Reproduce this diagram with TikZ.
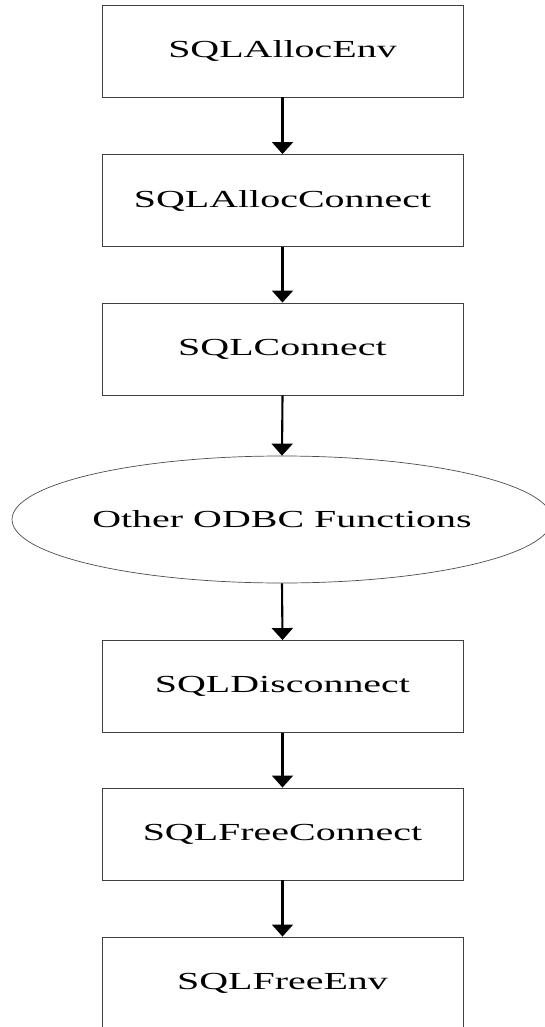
\documentclass[tikz,border=0pt]{standalone}
\usepackage{fontspec}
\setmainfont{Liberation Serif}
\usetikzlibrary{shapes.geometric,arrows.meta}
\begin{document}
\begin{tikzpicture}[x=1pt,y=1pt,
  lbl/.style={font=\fontsize{24.5}{26}\selectfont},
  callbox/.style={lbl,draw=black!75,line width=0.9pt,minimum width=361pt,minimum height=92pt,inner sep=0pt},
  otherbox/.style={lbl,ellipse,draw=black!70,line width=0.7pt,minimum width=540pt,minimum height=127pt,inner sep=0pt},
  flow/.style={line width=2.1pt,-{Triangle[length=12pt,width=21pt]}}]
\useasboundingbox (0,0) rectangle (545,-1027);
\newcommand{\wide}[1]{\scalebox{1.63}[1]{#1}}
\node[callbox] (env)   at (282.5,-51)    {\wide{SQLAllocEnv}};
\node[callbox] (conn)  at (282.5,-200.5) {\wide{SQLAllocConnect}};
\node[callbox] (sqlc)  at (282.5,-349)   {\wide{SQLConnect}};
\node[otherbox] (odbc) at (282,-519.5)   {\wide{Other ODBC Functions}};
\node[callbox] (disc)  at (282.5,-686.5) {\wide{SQLDisconnect}};
\node[callbox] (fconn) at (282.5,-834)   {\wide{SQLFreeConnect}};
\node[callbox] (fenv)  at (282.5,-983)   {\wide{SQLFreeEnv}};
\draw[flow] (env.south) -- (conn.north);
\draw[flow] (conn.south) -- (sqlc.north);
\draw[flow] (sqlc.south) -- (odbc.north);
\draw[flow] (odbc.south) -- (disc.north);
\draw[flow] (disc.south) -- (fconn.north);
\draw[flow] (fconn.south) -- (fenv.north);
\end{tikzpicture}
\end{document}
